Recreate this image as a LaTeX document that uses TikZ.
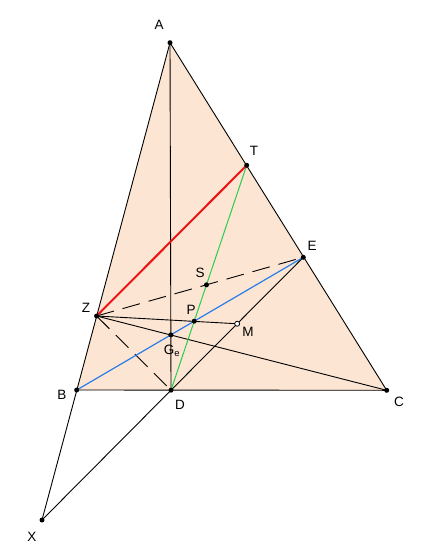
\documentclass[tikz,border=0pt]{standalone}
\usepackage{fontspec}
\setmainfont{Liberation Sans}
\usetikzlibrary{calc}

\definecolor{peach}{RGB}{252,229,210}
\definecolor{segred}{RGB}{235,20,20}
\definecolor{segblue}{RGB}{40,125,235}
\definecolor{seggreen}{RGB}{40,205,80}

\tikzset{
  pt/.style={circle,fill=black,inner sep=0pt,minimum size=5pt},
  hollowpt/.style={circle,draw=black,fill=white,inner sep=0pt,minimum size=5pt,line width=0.8pt},
  lbl/.style={font=\fontsize{13.5}{15}\selectfont,inner sep=0pt},
  seg/.style={line width=0.9pt},
  dashseg/.style={line width=0.9pt,dash pattern=on 18pt off 9pt}
}

\begin{document}
\begin{tikzpicture}[x=1pt,y=-1pt]
\useasboundingbox (0,0) rectangle (429,559);

\coordinate (A) at (170,42.7);
\coordinate (B) at (76.7,390);
\coordinate (C) at (386.7,390.3);
\coordinate (D) at (171,390.2);
\coordinate (E) at (303.3,257.3);
\coordinate (T) at (246.7,165.3);
\coordinate (Z) at (96.6,316);
\coordinate (X) at (42,520);
\coordinate (M) at ($(D)!0.5!(E)$);
\coordinate (Ge) at (intersection of A--D and B--E);
\coordinate (P) at (intersection of D--T and B--E);
\coordinate (S) at (intersection of D--T and Z--E);

% triangle
\fill[peach] (A) -- (B) -- (C) -- cycle;
\draw[seg] (A) -- (C) -- (B);
\draw[seg] (A) -- (X);
\draw[seg] (X) -- (D) -- (E);
\draw[seg] (A) -- (D);
\draw[seg] (Z) -- (C);
\draw[seg] (Z) -- (M);
\draw[dashseg] (Z) -- (E);
\draw[dashseg] (Z) -- (D);
\draw[segblue,line width=1.2pt] (B) -- (E);
\draw[seggreen,line width=1pt] (D) -- (T);
\draw[segred,line width=2pt] (Z) -- (T);

\foreach \p in {A,B,C,D,E,T,Z,X,Ge,P,S}
  \node[pt] (n\p) at (\p) {};
\node[hollowpt] (nM) at (M) {};

\node[lbl] (lA) at (159,25) {A};
\node[lbl] (lT) at (254,151) {T};
\node[lbl] (lE) at (312,246) {E};
\node[lbl] (lC) at (399,402) {C};
\node[lbl] (lB) at (62,395) {B};
\node[lbl] (lD) at (180,405) {D};
\node[lbl] (lX) at (32,537) {X};
\node[lbl] (lZ) at (86,308) {Z};
\node[lbl] (lS) at (200,273) {S};
\node[lbl] (lP) at (191,310) {P};
\node[lbl] (lM) at (248,332) {M};
\node[lbl] (lG) at (172,351) {G\textsubscript{e}};

\end{tikzpicture}
\end{document}
